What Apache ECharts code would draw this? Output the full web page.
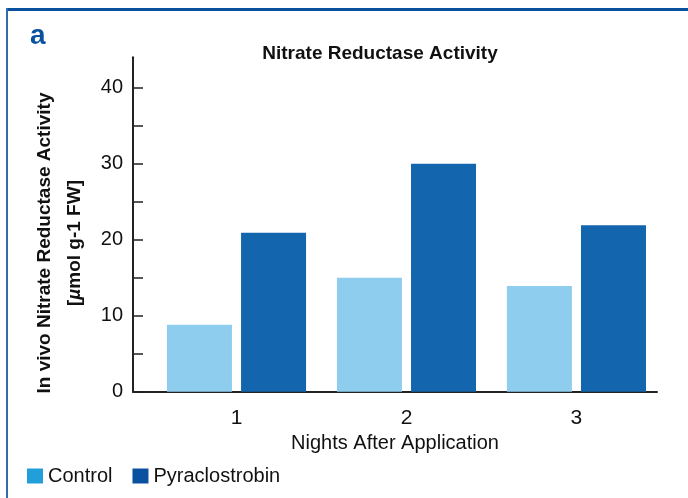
<!DOCTYPE html>
<html>
<head>
<meta charset="utf-8">
<script src="https://cdn.jsdelivr.net/npm/echarts@6/dist/echarts.min.js"></script>
<style>
html,body{margin:0;padding:0;background:#fff;}
#c{width:688px;height:498px;}
</style>
</head>
<body>
<div id="c"></div>
<script>
const categories = ['1', '2', '3'];
const categoryPositions = [1, 2, 3];
const controlValues = [8.8, 15, 13.9];
const pyraclostrobinValues = [20.9, 30, 21.9];
const yTickLabels = [0, 10, 20, 30, 40];
const yTickMarks = [0, 5, 10, 15, 20, 25, 30, 35, 40];
const yAxisTitle = ['In vivo Nitrate Reductase Activity', '[', 'µ', 'mol g-1 FW]'];

const FONT = '"Liberation Sans", Arial, sans-serif';

const chart = echarts.init(document.getElementById('c'), null, {renderer: 'canvas'});
chart.setOption({
  backgroundColor: '#ffffff',
  animation: false,
  title: [
    {
      text: 'Nitrate Reductase Activity',
      left: 375, top: 39, textAlign: 'center',
      textStyle: {fontFamily: FONT, fontWeight: 'bold', fontSize: 19, color: '#111'}
    },
    {
      text: 'a',
      left: 25, top: 17,
      textStyle: {fontFamily: FONT, fontWeight: 'bold', fontSize: 28, color: '#0a519f'}
    }
  ],
  graphic: [
    {type: 'rect', shape: {x: 6, y: 8, width: 690, height: 3}, style: {fill: '#0a519f'}},
    {type: 'rect', shape: {x: 6, y: 8, width: 2, height: 500}, style: {fill: '#2f6db3'}},
    {
      type: 'text', x: 60, y: 243, rotation: Math.PI / 2,
      style: {
        text: '{b|' + yAxisTitle[0] + '}\n{b|' + yAxisTitle[1] + '}{i|' + yAxisTitle[2] + '}{b|' + yAxisTitle[3] + '}',
        align: 'center', verticalAlign: 'middle',
        rich: {
          b: {fontFamily: FONT, fontWeight: 'bold', fontSize: 19, fill: '#111', lineHeight: 30, align: 'center'},
          i: {fontFamily: FONT, fontWeight: 'bold', fontStyle: 'italic', fontSize: 19, fill: '#111', lineHeight: 30}
        }
      }
    }
  ],
  legend: {
    left: 27, top: 466, padding: 0,
    itemWidth: 16, itemHeight: 15, itemGap: 20,
    icon: 'rect',
    textStyle: {fontFamily: FONT, fontSize: 20, color: '#111'},
    data: [
      {name: 'Control', itemStyle: {color: '#229fdb'}},
      {name: 'Pyraclostrobin', itemStyle: {color: '#0a519f'}}
    ]
  },
  grid: {left: 133, right: 31, top: 57.3, bottom: 106.3},
  xAxis: {
    type: 'value',
    min: 0.391, max: 3.474,
    splitLine: {show: false},
    axisTick: {show: false},
    axisLine: {show: true, lineStyle: {color: '#222', width: 2}},
    axisLabel: {
      customValues: categoryPositions,
      formatter: v => categories[categoryPositions.indexOf(v)] ?? '',
      fontFamily: FONT, fontSize: 21, color: '#111', margin: 16
    },
    name: 'Nights After Application',
    nameLocation: 'middle', nameGap: 40,
    nameTextStyle: {fontFamily: FONT, fontSize: 20, color: '#111'}
  },
  yAxis: {
    type: 'value',
    min: 0, max: 44, interval: 5,
    splitLine: {show: false},
    axisLine: {show: true, lineStyle: {color: '#222', width: 2}},
    axisTick: {show: true, inside: true, length: 10, customValues: yTickMarks, lineStyle: {color: '#222', width: 1.5}},
    axisLabel: {
      customValues: yTickLabels,
      fontFamily: FONT, fontSize: 20, color: '#111', margin: 10
    }
  },
  series: [
    {
      name: 'Control', type: 'bar',
      barWidth: 65, barGap: '14%',
      itemStyle: {color: '#8fcdee'},
      data: categoryPositions.map((x, i) => [x, controlValues[i]])
    },
    {
      name: 'Pyraclostrobin', type: 'bar',
      barWidth: 65, barGap: '14%',
      itemStyle: {color: '#1365ad'},
      data: categoryPositions.map((x, i) => [x, pyraclostrobinValues[i]])
    }
  ]
});
</script>
</body>
</html>
